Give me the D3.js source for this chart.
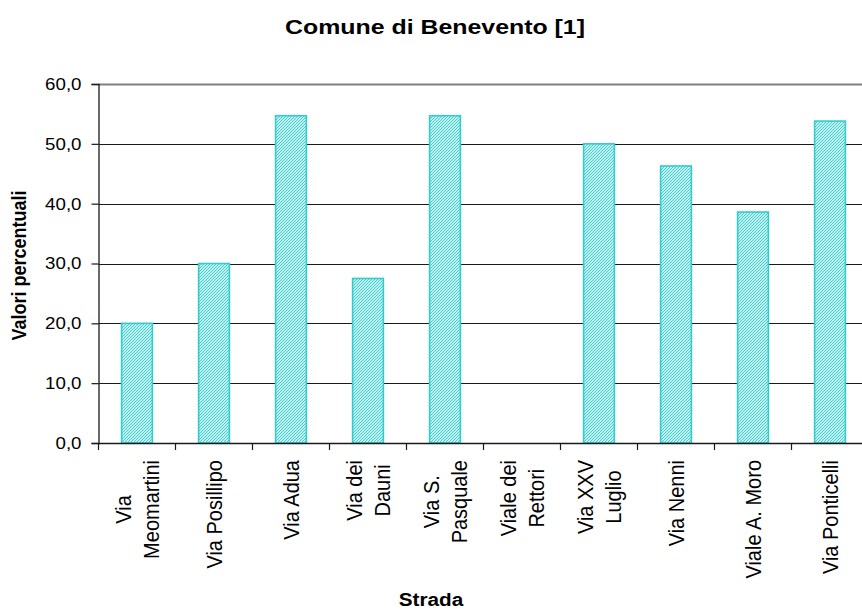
<!DOCTYPE html>
<html>
<head>
<meta charset="utf-8">
<script src="https://cdn.jsdelivr.net/npm/d3@7"></script>
<style>
  html, body { margin: 0; padding: 0; background: #fff; }
  svg { display: block; font-family: Arial, "Liberation Sans", Helvetica, sans-serif; }
</style>
</head>
<body>
<svg id="chart" width="862" height="609"></svg>
<script>
// ---- data ----
const categories = [
  "Via\nMeomartini", "Via Posillipo", "Via Adua", "Via dei\nDauni", "Via S.\nPasquale",
  "Viale dei\nRettori", "Via XXV\nLuglio", "Via Nenni", "Viale A. Moro", "Via Ponticelli"
];
const values = [20.0, 30.0, 54.7, 27.5, 54.7, 0, 50.0, 46.3, 38.6, 53.8];
const yTicks = [0, 10, 20, 30, 40, 50, 60];
const titleText = "Comune di Benevento [1]";
const xTitle = "Strada";
const yTitle = "Valori percentuali";

// ---- layout ----
const svg = d3.select("#chart");
const plot = { left: 98.5, right: 868.5, top: 84, bottom: 443 };
const barColor = "#33CCCC";

const x = d3.scaleBand().domain(d3.range(categories.length))
  .range([plot.left, plot.right]).paddingInner(0.6).paddingOuter(0.3);
const y = d3.scaleLinear().domain([0, 60]).range([plot.bottom, plot.top]);
const step = x.step();

// hatch pattern
const defs = svg.append("defs");
const pat = defs.append("pattern").attr("id", "hatch")
  .attr("patternUnits", "userSpaceOnUse").attr("width", 3).attr("height", 3);
pat.append("rect").attr("width", 3).attr("height", 3).attr("fill", "#ffffff");
pat.append("path").attr("d", "M-1,1 L1,-1 M0,3 L3,0 M2,4 L4,2")
  .attr("stroke", barColor).attr("stroke-width", 1.1);

// gridlines
svg.append("g").selectAll("line").data(yTicks.filter(d => d > 0)).join("line")
  .attr("x1", plot.left).attr("x2", plot.right)
  .attr("y1", d => Math.round(y(d)) + 0.5).attr("y2", d => Math.round(y(d)) + 0.5)
  .attr("stroke", d => d === 60 ? "#808080" : "#1a1a1a")
  .attr("stroke-width", d => d === 60 ? 2 : 1.2);

// bars
svg.append("g").selectAll("rect").data(values).join("rect")
  .attr("x", (d, i) => x(i)).attr("width", x.bandwidth())
  .attr("y", d => y(d)).attr("height", d => y(0) - y(d))
  .attr("fill", "url(#hatch)")
  .attr("stroke", d => d > 0 ? barColor : "none").attr("stroke-width", 1.6);

// y axis
const yAxis = d3.axisLeft(y).tickValues(yTicks).tickSize(7).tickPadding(10)
  .tickFormat(d => d3.format(".1f")(d).replace(".", ","));
const gy = svg.append("g").attr("transform", `translate(${plot.left},0)`).call(yAxis);
gy.select(".domain").attr("stroke", "#1a1a1a").attr("stroke-width", 1.3);
gy.selectAll(".tick line").attr("stroke", "#1a1a1a").attr("stroke-width", 1.2);
gy.selectAll(".tick text").attr("font-size", 17).attr("fill", "#000")
  .attr("font-family", "Arial, 'Liberation Sans', sans-serif")
  .each(function() {
    const t = d3.select(this);
    const w = this.getComputedTextLength();
    t.attr("textLength", w * 1.1).attr("lengthAdjust", "spacingAndGlyphs");
  });

// x axis (ticks at category boundaries)
const xAxisLine = svg.append("g");
xAxisLine.append("line").attr("x1", plot.left).attr("x2", plot.right)
  .attr("y1", plot.bottom + 0.5).attr("y2", plot.bottom + 0.5)
  .attr("stroke", "#1a1a1a").attr("stroke-width", 1.3);
xAxisLine.selectAll("line.tk").data(d3.range(categories.length + 1)).join("line")
  .attr("class", "tk")
  .attr("x1", i => plot.left + i * step).attr("x2", i => plot.left + i * step)
  .attr("y1", plot.bottom).attr("y2", plot.bottom + 7)
  .attr("stroke", "#1a1a1a").attr("stroke-width", 1.2);

// category labels (rotated)
const labelTop = 460, lineGap = 25, sxLab = 1.1;
categories.forEach((c, i) => {
  const cx = x(i) + x.bandwidth() / 2;
  const lines = c.split("\n");
  const g = svg.append("g")
    .attr("transform", `translate(${cx},${labelTop}) scale(${sxLab},1) rotate(-90)`);
  const texts = lines.map((ln, k) => g.append("text")
    .attr("font-size", 20).attr("fill", "#000")
    .attr("text-anchor", "middle")
    .attr("y", (k - (lines.length - 1) / 2) * lineGap)
    .attr("dy", "0.36em")
    .text(ln));
  const maxLen = d3.max(texts, t => t.node().getComputedTextLength());
  texts.forEach(t => t.attr("x", -maxLen / 2));
});

// title
const tt = svg.append("text").attr("x", 435).attr("y", 34)
  .attr("text-anchor", "middle").attr("font-size", 20).attr("font-weight", "bold")
  .text(titleText);
tt.attr("textLength", 300).attr("lengthAdjust", "spacingAndGlyphs");

// x title
const xt = svg.append("text").attr("x", 431).attr("y", 606)
  .attr("text-anchor", "middle").attr("font-size", 18).attr("font-weight", "bold")
  .text(xTitle);
xt.attr("textLength", xt.node().getComputedTextLength() * 1.15).attr("lengthAdjust", "spacingAndGlyphs");

// y title
svg.append("g").attr("transform", `translate(26,${(plot.top + plot.bottom) / 2 + 2}) scale(1.1,1) rotate(-90)`)
  .append("text").attr("text-anchor", "middle").attr("font-size", 18).attr("font-weight", "bold")
  .text(yTitle);
</script>
</body>
</html>
